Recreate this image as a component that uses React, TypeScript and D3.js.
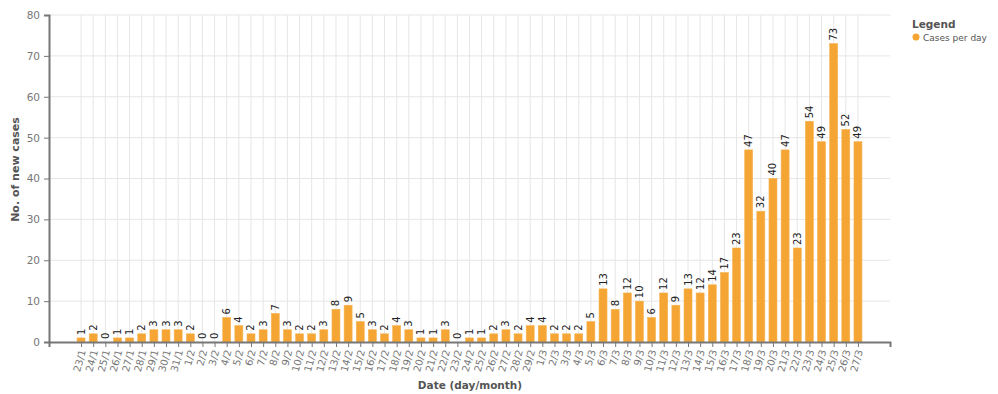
import { useEffect, useRef } from "react";
import * as d3 from "d3";

const DATES = [
  "23/1", "24/1", "25/1", "26/1", "27/1", "28/1", "29/1", "30/1", "31/1",
  "1/2", "2/2", "3/2", "4/2", "5/2", "6/2", "7/2", "8/2", "9/2", "10/2",
  "11/2", "12/2", "13/2", "14/2", "15/2", "16/2", "17/2", "18/2", "19/2",
  "20/2", "21/2", "22/2", "23/2", "24/2", "25/2", "26/2", "27/2", "28/2", "29/2",
  "1/3", "2/3", "3/3", "4/3", "5/3", "6/3", "7/3", "8/3", "9/3", "10/3",
  "11/3", "12/3", "13/3", "14/3", "15/3", "16/3", "17/3", "18/3", "19/3",
  "20/3", "21/3", "22/3", "23/3", "24/3", "25/3", "26/3", "27/3",
];

const CASES = [
  1, 2, 0, 1, 1, 2, 3, 3, 3,
  2, 0, 0, 6, 4, 2, 3, 7, 3, 2,
  2, 3, 8, 9, 5, 3, 2, 4, 3,
  1, 1, 3, 0, 1, 1, 2, 3, 2, 4,
  4, 2, 2, 2, 5, 13, 8, 12, 10, 6,
  12, 9, 13, 12, 14, 17, 23, 47, 32,
  40, 47, 23, 54, 49, 73, 52, 49,
];

const Y_TICKS = [0, 10, 20, 30, 40, 50, 60, 70, 80];

const BAR_FILL = "#f4a534";
const AXIS_STROKE = "#777";
const GRID_STROKE = "#e6e6e6";
const LABEL_FILL = "#777";
const TITLE_FILL = "#555";
const FONT = "DejaVu Sans, sans-serif";

export default function App() {
  const ref = useRef<SVGSVGElement>(null);

  useEffect(() => {
    const el = ref.current;
    if (!el) return;
    const svg = d3.select(el);
    svg.selectAll("*").remove();

    const left = 49;
    const right = 890;
    const top = 15;
    const bottom = 342;

    const x = d3.scalePoint<string>().domain(DATES).range([left, right]).padding(2.64);
    const y = d3.scaleLinear().domain([0, 80]).range([bottom, top]);
    const barW = 8;

    const g = svg.append("g").attr("font-family", FONT);

    // grid
    g.append("g")
      .selectAll("line")
      .data(Y_TICKS.filter((d) => d > 0))
      .join("line")
      .attr("x1", left)
      .attr("x2", right)
      .attr("y1", (d) => y(d))
      .attr("y2", (d) => y(d))
      .attr("stroke", GRID_STROKE)
      .attr("stroke-width", 1);

    g.append("g")
      .selectAll("line")
      .data(DATES)
      .join("line")
      .attr("x1", (d) => x(d)!)
      .attr("x2", (d) => x(d)!)
      .attr("y1", top)
      .attr("y2", bottom)
      .attr("stroke", GRID_STROKE)
      .attr("stroke-width", 1);

    // bars
    g.append("g")
      .selectAll("rect")
      .data(CASES)
      .join("rect")
      .attr("x", (_, i) => x(DATES[i])! - barW / 2)
      .attr("y", (d) => y(d))
      .attr("width", barW)
      .attr("height", (d) => bottom - y(d))
      .attr("fill", BAR_FILL)
      .attr("stroke", "#f7b554")
      .attr("stroke-width", 0.6);

    // value labels
    g.append("g")
      .selectAll("text")
      .data(CASES)
      .join("text")
      .attr(
        "transform",
        (d, i) => `translate(${x(DATES[i])! + 3.5},${y(d) - 3}) rotate(-90)`
      )
      .attr("font-size", 10)
      .attr("fill", "#222")
      .text((d) => d);

    // y axis
    const yAxis = d3.axisLeft(y).tickValues(Y_TICKS).tickSize(5).tickPadding(4);
    g.append("g")
      .attr("transform", `translate(${left},0)`)
      .call(yAxis)
      .call((ga) => ga.select(".domain").attr("stroke", AXIS_STROKE).attr("stroke-width", 2))
      .call((ga) => ga.selectAll(".tick line").attr("stroke", AXIS_STROKE))
      .call((ga) =>
        ga.selectAll(".tick text").attr("fill", LABEL_FILL).attr("font-size", 10.5).attr("font-family", FONT)
      );

    // x axis
    const xAxis = d3.axisBottom(x).tickSize(5).tickPadding(4).tickSizeOuter(5);
    g.append("g")
      .attr("transform", `translate(0,${bottom})`)
      .call(xAxis)
      .call((ga) => ga.select(".domain").attr("stroke", AXIS_STROKE).attr("stroke-width", 2))
      .call((ga) => ga.selectAll(".tick line").attr("stroke", AXIS_STROKE))
      .call((ga) =>
        ga
          .selectAll(".tick text")
          .attr("fill", LABEL_FILL)
          .attr("font-size", 10)
          .attr("font-family", FONT)
          .attr("text-anchor", "end")
          .attr("dy", "0.35em")
          .attr("transform", "translate(1,8) rotate(-75)")
          .attr("x", 0)
          .attr("y", 0)
      );

    // axis titles
    g.append("text")
      .attr("transform", `translate(19,${(top + bottom) / 2 - 9}) rotate(-90)`)
      .attr("text-anchor", "middle")
      .attr("font-size", 11)
      .attr("font-weight", 700)
      .attr("fill", TITLE_FILL)
      .text("No. of new cases");

    g.append("text")
      .attr("x", 470)
      .attr("y", 389)
      .attr("text-anchor", "middle")
      .attr("font-size", 10.5)
      .attr("font-weight", 700)
      .attr("fill", TITLE_FILL)
      .text("Date (day/month)");

    // legend
    const lg = g.append("g").attr("transform", "translate(912,0)");
    lg.append("text")
      .attr("x", 0)
      .attr("y", 28)
      .attr("font-size", 10.5)
      .attr("font-weight", 700)
      .attr("fill", TITLE_FILL)
      .text("Legend");
    lg.append("circle").attr("cx", 4).attr("cy", 37).attr("r", 3.5).attr("fill", BAR_FILL);
    lg.append("text")
      .attr("x", 11)
      .attr("y", 40.5)
      .attr("font-size", 9)
      .attr("fill", TITLE_FILL)
      .text("Cases per day");
  }, []);

  return (
    <svg
      ref={ref}
      width={998}
      height={394}
      style={{ position: "absolute", left: 0, top: 0, background: "#fff" }}
    />
  );
}
